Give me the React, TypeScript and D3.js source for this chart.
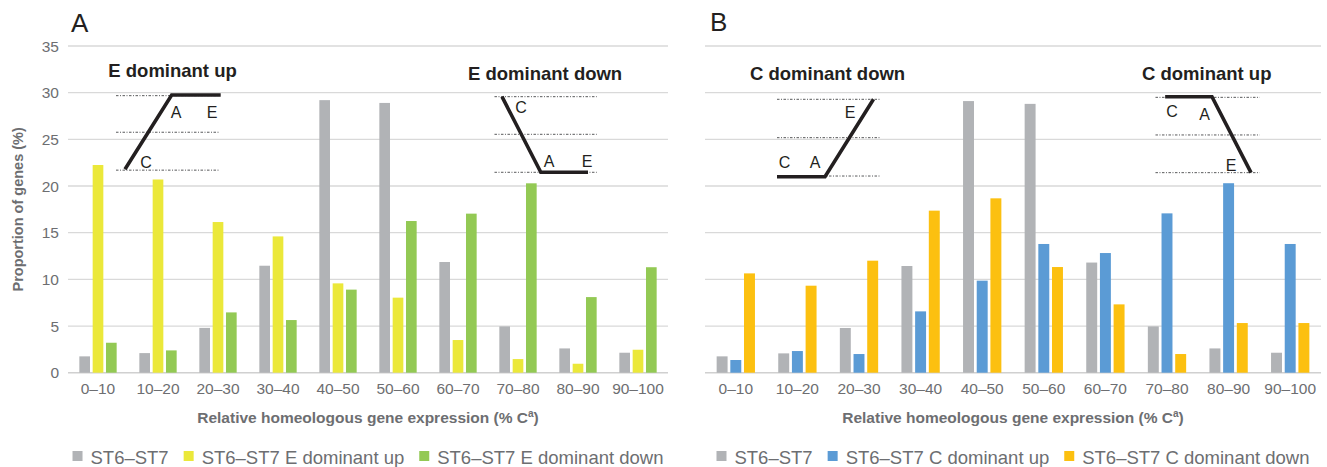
import React from 'react';
import * as d3 from 'd3';

const CATEGORIES = ['0–10', '10–20', '20–30', '30–40', '40–50', '50–60', '60–70', '70–80', '80–90', '90–100'];
const Y_TICKS = [0, 5, 10, 15, 20, 25, 30, 35];

// Panel A
const ST6_ST7_A = [1.75, 2.1, 4.8, 11.46, 29.2, 28.9, 11.86, 4.96, 2.6, 2.14];
const E_DOMINANT_UP = [22.25, 20.7, 16.14, 14.6, 9.57, 8.04, 3.5, 1.46, 0.96, 2.46];
const E_DOMINANT_DOWN = [3.21, 2.39, 6.46, 5.64, 8.9, 16.25, 17.04, 20.29, 8.1, 11.3];

// Panel B
const ST6_ST7_B = [1.75, 2.07, 4.79, 11.43, 29.1, 28.8, 11.8, 4.96, 2.6, 2.14];
const C_DOMINANT_UP = [1.36, 2.32, 2.0, 6.57, 9.86, 13.79, 12.82, 17.07, 20.3, 13.79];
const C_DOMINANT_DOWN = [10.64, 9.32, 12.0, 17.36, 18.68, 11.32, 7.32, 2.0, 5.32, 5.32];

const LEGEND_A = ['ST6–ST7', 'ST6–ST7 E dominant up', 'ST6–ST7 E dominant down'];
const LEGEND_B = ['ST6–ST7', 'ST6–ST7 C dominant up', 'ST6–ST7 C dominant down'];

const COLORS_A = ['#b1b3b6', '#ebe83a', '#93c954'];
const COLORS_B = ['#b1b3b6', '#5b9bd5', '#fcc010'];

const FONT = '"Liberation Sans", Arial, Helvetica, sans-serif';
const TEXT_GRAY = '#6d6e71';
const INK = '#231f20';

type Inset = {
  title: string;
  titleX: number; // in category units
  titleY: number; // in value units
  dotX: [number, number];
  dotY: number[];
  line: [number, number][];
  labels: { t: string; x: number; y: number }[];
};

const INSETS_A: Inset[] = [
  {
    title: 'E dominant up', titleX: 0.672, titleY: 31.68,
    dotX: [0.8, 2.533], dotY: [29.68, 25.76, 21.7],
    line: [[0.95, 21.79], [1.728, 29.75], [2.545, 29.75]],
    labels: [{ t: 'C', x: 1.3, y: 21.93 }, { t: 'A', x: 1.8, y: 27.29 }, { t: 'E', x: 2.4, y: 27.29 }],
  },
  {
    title: 'E dominant down', titleX: 6.667, titleY: 31.36,
    dotX: [7.108, 8.813], dotY: [29.57, 25.54, 21.47],
    line: [[7.233, 29.57], [7.88, 21.47], [8.667, 21.47]],
    labels: [{ t: 'C', x: 7.55, y: 27.86 }, { t: 'A', x: 8.017, y: 22.07 }, { t: 'E', x: 8.65, y: 22.07 }],
  },
];

const INSETS_B: Inset[] = [
  {
    title: 'C dominant down', titleX: 0.73, titleY: 31.36,
    dotX: [1.169, 2.857], dotY: [29.29, 25.18, 21.07],
    line: [[1.169, 21.0], [1.948, 21.0], [2.735, 29.29]],
    labels: [{ t: 'C', x: 1.29, y: 21.96 }, { t: 'A', x: 1.786, y: 21.96 }, { t: 'E', x: 2.354, y: 27.26 }],
  },
  {
    title: 'C dominant up', titleX: 7.094, titleY: 31.36,
    dotX: [7.313, 9.005], dotY: [29.5, 25.47, 21.43],
    line: [[7.47, 29.57], [8.23, 29.57], [8.864, 21.43]],
    labels: [{ t: 'C', x: 7.581, y: 27.43 }, { t: 'A', x: 8.109, y: 27.07 }, { t: 'E', x: 8.539, y: 21.64 }],
  },
];

let ctx: CanvasRenderingContext2D | null = null;
function measure(text: string, font: string): number {
  if (!ctx) ctx = document.createElement('canvas').getContext('2d');
  if (!ctx) return text.length * 9;
  ctx.font = font;
  return ctx.measureText(text).width;
}

const TOP = 46;
const BOTTOM = 372.7;

function Panel(props: {
  x0: number; x1: number; letter: string; letterX: number; letterY: number;
  series: number[][]; colors: string[]; legend: string[]; insets: Inset[]; yAxis: boolean;
}) {
  const { x0, x1, series, colors, legend, insets } = props;
  const y = d3.scaleLinear().domain([0, 35]).range([BOTTOM, TOP]);
  const xBand = d3.scaleBand<string>().domain(CATEGORIES).range([x0, x1]).padding(0);
  const bw = xBand.bandwidth();
  const groupW = bw * 0.622;
  const keys = series.map((_, i) => String(i));
  const xInner = d3.scaleBand<string>().domain(keys).range([0, groupW]).paddingInner(0.2);
  const xc = d3.scaleLinear().domain([0, 10]).range([x0, x1]);
  const lineGen = d3.line<[number, number]>().x(d => xc(d[0])).y(d => y(d[1]));

  // legend layout
  const legSize = 18.5;
  const legFont = `${legSize}px ${FONT}`;
  const sq = 10, gapSq = 8, gapItem = 15;
  const widths = legend.map(l => measure(l, legFont));
  const total = widths.reduce((a, b) => a + b, 0) + legend.length * (sq + gapSq) + (legend.length - 1) * gapItem;
  let lx = (x0 + x1) / 2 - total / 2;
  const legendItems = legend.map((l, i) => {
    const item = { x: lx, label: l, color: colors[i] };
    lx += sq + gapSq + widths[i] + gapItem;
    return item;
  });

  return (
    <g>
      <text x={props.letterX} y={props.letterY} fontSize={26} fontFamily={FONT} fill={INK}>{props.letter}</text>
      {Y_TICKS.filter(t => t > 0).map(t => (
        <line key={t} x1={x0} x2={x1} y1={y(t)} y2={y(t)} stroke="#d9d9d9" strokeWidth={1.3} />
      ))}
      <line x1={x0} x2={x1} y1={y(0)} y2={y(0)} stroke="#d0d0d0" strokeWidth={1.6} />
      {props.yAxis && Y_TICKS.map(t => (
        <text key={t} x={x0 - 9} y={y(t) + 5.5} textAnchor="end" fontSize={15.5} fontFamily={FONT} fill={TEXT_GRAY}>{t}</text>
      ))}
      {props.yAxis && (
        <text transform={`translate(${x0 - 45},${(TOP + BOTTOM) / 2}) rotate(-90)`} textAnchor="middle"
          fontSize={14.5} fontWeight="bold" fontFamily={FONT} fill={TEXT_GRAY}>Proportion of genes (%)</text>
      )}
      {series.map((vals, si) => vals.map((v, ci) => {
        const cat = CATEGORIES[ci];
        const bx = (xBand(cat) as number) + (bw - groupW) / 2 + (xInner(String(si)) as number);
        return <rect key={`${si}-${ci}`} x={bx} y={y(v)} width={xInner.bandwidth()} height={y(0) - y(v)} fill={colors[si]} />;
      }))}
      {CATEGORIES.map(c => (
        <text key={c} x={(xBand(c) as number) + bw / 2} y={394} textAnchor="middle" fontSize={15.5} fontFamily={FONT} fill={TEXT_GRAY}>{c}</text>
      ))}
      <text x={(x0 + x1) / 2} y={423} textAnchor="middle" fontSize={15.5} fontWeight="bold" fontFamily={FONT} fill={TEXT_GRAY}>
        Relative homeologous gene expression (% C<tspan fontSize={10} dy={-6}>a</tspan><tspan dy={6}>)</tspan>
      </text>
      {legendItems.map((it, i) => (
        <g key={i}>
          <rect x={it.x} y={451} width={sq} height={sq} fill={it.color} />
          <text x={it.x + sq + gapSq} y={463.5} fontSize={legSize} fontFamily={FONT} fill={TEXT_GRAY}>{it.label}</text>
        </g>
      ))}
      {insets.map((ins, k) => (
        <g key={k}>
          <text x={xc(ins.titleX)} y={y(ins.titleY)} fontSize={18.5} fontWeight="bold" fontFamily={FONT} fill={INK}>{ins.title}</text>
          {ins.dotY.map((dy, j) => (
            <line key={j} x1={xc(ins.dotX[0])} x2={xc(ins.dotX[1])} y1={y(dy)} y2={y(dy)}
              stroke="#58595b" strokeWidth={1} strokeDasharray="2.5 1.5 1 1.5" />
          ))}
          <path d={lineGen(ins.line) || ''} fill="none" stroke={INK} strokeWidth={3.6} />
          {ins.labels.map((lb, j) => (
            <text key={j} x={xc(lb.x)} y={y(lb.y)} textAnchor="middle" fontSize={16} fontFamily={FONT} fill={INK}>{lb.t}</text>
          ))}
        </g>
      ))}
    </g>
  );
}

export default function App() {
  return (
    <svg width={1327} height={467} style={{ position: 'absolute', left: 0, top: 0, background: '#fff' }}>
      <rect width={1327} height={467} fill="#fff" />
      <Panel x0={68} x1={668} letter="A" letterX={71} letterY={31.5} yAxis
        series={[ST6_ST7_A, E_DOMINANT_UP, E_DOMINANT_DOWN]} colors={COLORS_A} legend={LEGEND_A} insets={INSETS_A} />
      <Panel x0={705} x1={1321} letter="B" letterX={710} letterY={30.5} yAxis={false}
        series={[ST6_ST7_B, C_DOMINANT_UP, C_DOMINANT_DOWN]} colors={COLORS_B} legend={LEGEND_B} insets={INSETS_B} />
    </svg>
  );
}
